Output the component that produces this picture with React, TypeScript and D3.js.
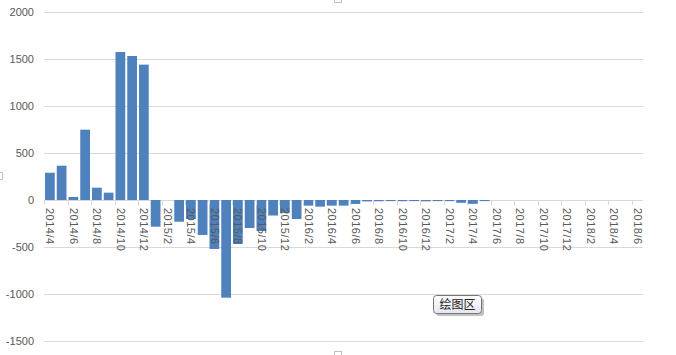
import React from 'react';
import * as d3 from 'd3';

// months on the category axis (every month, labels shown every other one)
const MONTHS = [
  '2014/4', '2014/5', '2014/6', '2014/7', '2014/8', '2014/9', '2014/10', '2014/11', '2014/12',
  '2015/1', '2015/2', '2015/3', '2015/4', '2015/5', '2015/6', '2015/7', '2015/8', '2015/9', '2015/10', '2015/11', '2015/12',
  '2016/1', '2016/2', '2016/3', '2016/4', '2016/5', '2016/6', '2016/7', '2016/8', '2016/9', '2016/10', '2016/11', '2016/12',
  '2017/1', '2017/2', '2017/3', '2017/4', '2017/5', '2017/6', '2017/7', '2017/8', '2017/9', '2017/10', '2017/11', '2017/12',
  '2018/1', '2018/2', '2018/3', '2018/4', '2018/5', '2018/6',
];

const VALUES = [
  290, 365, 32, 748, 131, 78, 1574, 1532, 1440,
  -284, 0, -231, -202, -372, -521, -1039, -468, -298, -330, -165, -140,
  -202, -60, -71, -60, -60, -42, -15, -13, -12, -13, -12, -14,
  -12, -12, -30, -41, -12, 0, 0, 0, 0, 0, 0, 0,
  0, 0, 0, 0, 0, 0,
];

const Y_TICKS = [-1500, -1000, -500, 0, 500, 1000, 1500, 2000];

const W = 676;
const H = 355;
const margin = { left: 44, right: 33, top: 12, bottom: 14 };
const FONT = '"Liberation Sans", Arial, sans-serif';
const TEXT = '#595959';
const GRID = '#d9d9d9';
const BAR = '#4f81bd';

const App = () => {
  const x = d3.scaleBand<string>()
    .domain(MONTHS)
    .range([margin.left, W - margin.right + 0.25])
    .paddingInner(0.17)
    .paddingOuter(0.085);
  const y = d3.scaleLinear().domain([-1500, 2000]).range([H - margin.bottom, margin.top]);

  const step = x.step();
  const edge = (i: number) => (x(MONTHS[i]) as number) - (step * 0.17) / 2;
  const y0 = y(0);

  return (
    <svg width={W} height={H} style={{ position: 'absolute', left: 0, top: 0, background: '#fff' }}>
      {/* gridlines + value axis */}
      {Y_TICKS.map(t => (
        <g key={t}>
          <line x1={margin.left} x2={W - margin.right} y1={Math.round(y(t)) + 0.5} y2={Math.round(y(t)) + 0.5} stroke={GRID} />
          <text x={34} y={y(t)} dy="0.35em" textAnchor="end" fontFamily={FONT} fontSize={11} fill={TEXT}>{t}</text>
        </g>
      ))}

      {/* bars */}
      {VALUES.map((v, i) => (
        <rect key={i}
          x={x(MONTHS[i])}
          y={Math.min(y(v), y0)}
          width={x.bandwidth()}
          height={Math.abs(y(v) - y0)}
          fill={BAR} />
      ))}

      {/* category ticks */}
      {MONTHS.map((m, i) => i % 2 === 0 ? (
        <line key={m} x1={Math.round(edge(i)) + 0.5} x2={Math.round(edge(i)) + 0.5} y1={y0} y2={y0 + 5} stroke={GRID} />
      ) : null)}

      {/* category labels, rotated */}
      {MONTHS.map((m, i) => i % 2 === 0 ? (
        <text key={m}
          transform={`translate(${(x(m) as number) + x.bandwidth() / 2}, ${y0 + 8}) rotate(90)`}
          dy="0.35em" textAnchor="start" fontFamily={FONT} fontSize={11} letterSpacing={0.5} fill={TEXT}>{m}</text>
      ) : null)}

      {/* tooltip */}
      <defs>
        <linearGradient id="tipfill" x1="0" y1="0" x2="0" y2="1">
          <stop offset="0" stopColor="#ffffff" />
          <stop offset="1" stopColor="#e4e5f0" />
        </linearGradient>
      </defs>
      <rect x={436} y={298} width={48} height={18} rx={3} fill="#9a9a9a" opacity={0.6} />
      <rect x={433.5} y={295.5} width={48} height={18} rx={3} fill="url(#tipfill)" stroke="#767676" />
      <text x={457.5} y={305} dy="0.35em" textAnchor="middle" fontFamily='"Noto Sans CJK SC", sans-serif' fontSize={12} fill="#222">绘图区</text>

      {/* selection handles of the chart area */}
      <rect x={334.5} y={-4.5} width={7} height={7} fill="#fff" stroke="#c0c0c0" />
      <rect x={334.5} y={351.5} width={7} height={7} fill="#fff" stroke="#c0c0c0" />
      <rect x={-3.5} y={172.5} width={6} height={7} fill="#fff" stroke="#c0c0c0" />
    </svg>
  );
};

export default App;
